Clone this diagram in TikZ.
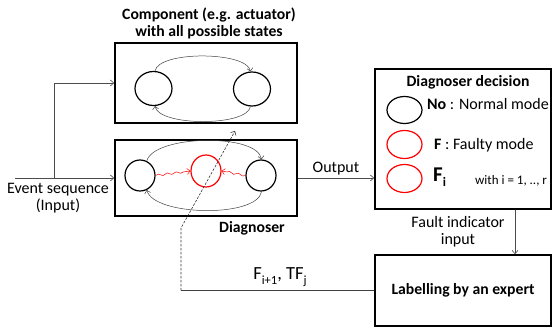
\documentclass[tikz,border=0pt]{standalone}
\usepackage{fontspec}
\setmainfont{Carlito}
\usetikzlibrary{arrows.meta,decorations.pathmorphing,shapes.geometric,calc}
\begin{document}
\begin{tikzpicture}[x=1pt,y=-1pt,
  box/.style={draw=black,line width=1.5pt,minimum width=#1,inner sep=0pt},
  st/.style={draw=black,line width=1.2pt,ellipse,inner sep=0pt},
  rst/.style={draw=red,line width=1.2pt,ellipse,inner sep=0pt},
  conn/.style={draw=black!70,line width=0.6pt,-{Straight Barb[length=3.5pt,width=6pt]}},
  arcc/.style={draw=black!75,line width=0.5pt,-{Straight Barb[length=3pt,width=6pt]}},
  wave/.style={draw=red,line width=0.5pt,decorate,decoration={snake,amplitude=1pt,segment length=9pt,post length=4pt},-{Straight Barb[length=3pt,width=6pt]}},
  txt/.style={font=\fontsize{16}{17}\selectfont,inner sep=0pt,align=center},
  btxt/.style={font=\fontsize{15.7}{17}\selectfont\bfseries,inner sep=0pt,align=center}]
\useasboundingbox (0,0) rectangle (552,328);

% boxes
\node[box=182pt,minimum height=80pt] (comp) at (206,83) {};
\node[box=182pt,minimum height=76pt] (diag) at (206,178) {};
\node[box=176pt,minimum height=140pt] (dec) at (463,139) {};
\node[box=176pt,minimum height=71pt] (lab) at (463,290.5) {};

% titles
\node[btxt] (comptitle) at (209,23.5) {Component (e.g. actuator)\\with all possible states};
\node[btxt] (diaglabel) at (252,228) {Diagnoser};
\node[btxt] (dectitle) at (468,82) {Diagnoser decision};
\node[btxt] (labtext) at (463,290.5) {Labelling by an expert};

% component states
\node[st,minimum width=37pt,minimum height=34pt] (c1) at (153.5,88.5) {};
\node[st,minimum width=37pt,minimum height=34pt] (c2) at (252,89) {};
\draw[arcc] (c1.85) to[out=80,in=100,looseness=0.55] (c2.95);
\draw[arcc] (c2.-95) to[out=-100,in=-80,looseness=0.55] (c1.-85);

% diagnoser states
\node[st,minimum width=30pt,minimum height=31pt] (d1) at (140,175.5) {};
\node[rst,minimum width=30pt,minimum height=32pt] (d2) at (206,171) {};
\node[st,minimum width=30pt,minimum height=31pt] (d3) at (261,175.5) {};
\draw[arcc] (d1.65) to[out=75,in=100,looseness=0.6] (d3.88);
\draw[arcc] (d3.-88) to[out=-100,in=-75,looseness=0.6] (d1.-65);
\draw[wave] (d1.east) -- (d2.west);
\draw[wave] (d3.west) -- (d2.east);

% decision legend
\node[st,minimum width=35pt,minimum height=27pt] (n1) at (404.5,110) {};
\node[rst,minimum width=35pt,minimum height=28pt] (n2) at (404.5,144.5) {};
\node[rst,minimum width=35pt,minimum height=28pt] (n3) at (404.5,178.5) {};
\node[txt,anchor=west] (t1) at (427,104.5) {\textbf{No} : Normal mode};
\node[txt,anchor=west] (t2) at (434,145) {\textbf{F} : Faulty mode};
\node[inner sep=0pt,anchor=west,font=\fontsize{21}{22}\selectfont\bfseries] (t3) at (433,177) {F\raisebox{-0.45ex}{\fontsize{13}{13}\selectfont i}};
\node[inner sep=0pt,anchor=west,font=\fontsize{13}{14}\selectfont] (t4) at (475,181) {with i = 1, .., r};

% input
\node[txt] (evt) at (58,198.5) {Event sequence\\(Input)};
\coordinate (in) at (15,178);
\coordinate (br) at (54,178);
\draw[conn] (in) -- (diag.west);
\draw[conn] (br) |- (comp.west);

% output
\draw[conn] (diag.east) -- (diag.east -| dec.west) node[midway,above=3pt,txt] (outl) {Output};

% fault indicator
\draw[conn] ([xshift=52pt]dec.south) -- ([xshift=52pt]lab.north);
\node[txt] (fil) at (458,232) {Fault indicator\\input};

% feedback
\coordinate (corner) at (181,290.5);
\draw[draw=black!75,line width=0.6pt] (lab.west) -- (corner);
\draw[draw=black!80,line width=0.6pt,dashed,dash pattern=on 2.5pt off 1.5pt,-{Straight Barb[length=3pt,width=6pt]}] (corner) -- (181,228) -- (235,131);
\node[inner sep=0pt,font=\fontsize{18.5}{20}\selectfont] (fl) at (280,277) {F\raisebox{-0.5ex}{\fontsize{12.5}{12.5}\selectfont i+1}, TF\raisebox{-0.5ex}{\fontsize{12.5}{12.5}\selectfont j}};
\end{tikzpicture}
\end{document}
